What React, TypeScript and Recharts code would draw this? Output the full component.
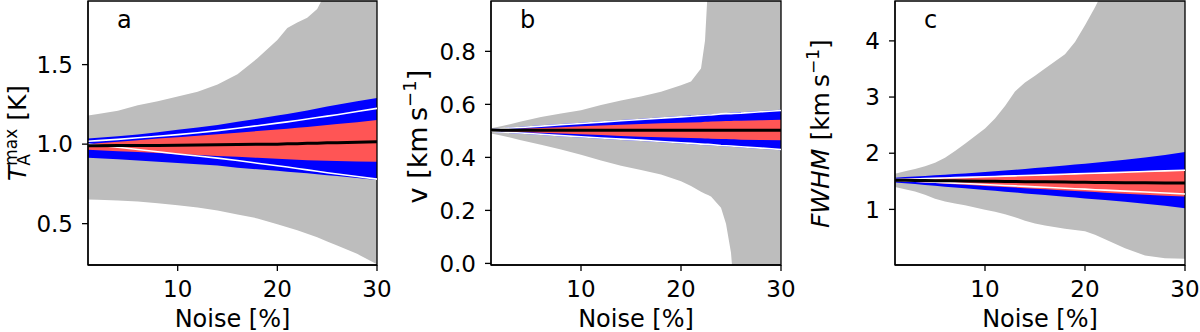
import React from 'react';
import { ComposedChart, Area, Line, XAxis, YAxis, ReferenceArea } from 'recharts';

const FONT = '"DejaVu Sans", Verdana, sans-serif';
const GRAY = '#bdbdbd';
const BLUE = '#0000ff';
const RED = '#ff5555';

// ---------- Panel a : T_A^max ----------
const noiseA = [1, 2, 4, 6, 8, 10, 12, 14, 16, 18, 20, 21, 22, 23, 24, 25, 26, 28, 30];
const grayLoA = [0.652, 0.65, 0.646, 0.64, 0.628, 0.615, 0.602, 0.582, 0.558, 0.533, 0.497, 0.478, 0.458, 0.437, 0.415, 0.388, 0.362, 0.31, 0.245];
const grayHiA = [1.18, 1.19, 1.21, 1.245, 1.27, 1.3, 1.33, 1.375, 1.44, 1.54, 1.655, 1.73, 1.765, 1.795, 1.85, 1.97, 2.05, 2.2, 2.35];
const blueLoA = [0.915, 0.912, 0.905, 0.897, 0.889, 0.882, 0.874, 0.865, 0.852, 0.842, 0.832, 0.827, 0.822, 0.817, 0.811, 0.805, 0.8, 0.787, 0.774];
const blueHiA = [1.035, 1.04, 1.05, 1.06, 1.075, 1.09, 1.105, 1.12, 1.14, 1.16, 1.18, 1.19, 1.2, 1.212, 1.224, 1.236, 1.248, 1.27, 1.29];
const redLoA = [0.965, 0.962, 0.956, 0.95, 0.944, 0.938, 0.932, 0.926, 0.92, 0.914, 0.908, 0.905, 0.902, 0.899, 0.897, 0.895, 0.894, 0.891, 0.889];
const redHiA = [1.0, 1.005, 1.015, 1.025, 1.035, 1.044, 1.053, 1.062, 1.072, 1.082, 1.092, 1.097, 1.103, 1.108, 1.114, 1.12, 1.126, 1.138, 1.151];
const whiteLoA = [1.0, 0.993, 0.98, 0.966, 0.952, 0.938, 0.925, 0.912, 0.897, 0.88, 0.864, 0.856, 0.847, 0.838, 0.829, 0.82, 0.812, 0.796, 0.78];
const whiteHiA = [1.018, 1.022, 1.03, 1.04, 1.05, 1.06, 1.072, 1.085, 1.1, 1.116, 1.132, 1.14, 1.149, 1.158, 1.167, 1.176, 1.185, 1.205, 1.225];
const medianA = [0.99, 0.99, 0.991, 0.991, 0.992, 0.993, 0.994, 0.996, 0.997, 0.999, 1.0, 1.002, 1.003, 1.005, 1.006, 1.008, 1.009, 1.012, 1.015];
const yTicksA = [0.5, 1.0, 1.5];
const yDomainA: [number, number] = [0.24, 1.9];

// ---------- Panel b : v ----------
const noiseB = [1, 2, 4, 6, 8, 10, 12, 14, 16, 18, 20, 21, 22, 22.4, 22.7, 23, 24, 24.5, 25, 25.3, 26, 28, 30];
const grayLoB = [0.49, 0.483, 0.465, 0.448, 0.43, 0.41, 0.388, 0.368, 0.352, 0.335, 0.31, 0.292, 0.27, 0.263, 0.258, 0.252, 0.21, 0.15, 0.04, -0.1, -0.2, -0.2, -0.2];
const grayHiB = [0.51, 0.517, 0.535, 0.552, 0.566, 0.578, 0.598, 0.615, 0.63, 0.648, 0.672, 0.686, 0.735, 0.84, 1.05, 1.2, 1.3, 1.3, 1.3, 1.3, 1.3, 1.3, 1.3];
const blueLoB = [0.497, 0.494, 0.489, 0.484, 0.479, 0.475, 0.47, 0.466, 0.462, 0.457, 0.452, 0.45, 0.447, 0.446, 0.446, 0.445, 0.442, 0.441, 0.44, 0.439, 0.437, 0.432, 0.427];
const blueHiB = [0.507, 0.51, 0.516, 0.521, 0.526, 0.531, 0.536, 0.541, 0.546, 0.551, 0.556, 0.558, 0.561, 0.562, 0.563, 0.563, 0.566, 0.567, 0.568, 0.569, 0.57, 0.575, 0.58];
const redLoB = [0.501, 0.499, 0.496, 0.493, 0.49, 0.487, 0.484, 0.481, 0.478, 0.476, 0.474, 0.473, 0.472, 0.471, 0.471, 0.47, 0.469, 0.469, 0.468, 0.468, 0.467, 0.466, 0.465];
const redHiB = [0.503, 0.505, 0.508, 0.511, 0.514, 0.517, 0.52, 0.523, 0.526, 0.529, 0.531, 0.532, 0.533, 0.534, 0.534, 0.535, 0.536, 0.537, 0.537, 0.538, 0.538, 0.54, 0.542];
const whiteLoB = [0.499, 0.496, 0.492, 0.487, 0.482, 0.478, 0.473, 0.469, 0.465, 0.46, 0.455, 0.453, 0.45, 0.449, 0.449, 0.448, 0.445, 0.444, 0.443, 0.442, 0.44, 0.435, 0.43];
const whiteHiB = [0.505, 0.508, 0.513, 0.518, 0.523, 0.528, 0.533, 0.538, 0.543, 0.548, 0.553, 0.555, 0.558, 0.559, 0.56, 0.56, 0.564, 0.565, 0.565, 0.566, 0.567, 0.572, 0.577];
const medianB = [0.503, 0.502, 0.502, 0.502, 0.502, 0.502, 0.502, 0.502, 0.502, 0.502, 0.502, 0.502, 0.502, 0.502, 0.502, 0.502, 0.502, 0.502, 0.502, 0.502, 0.502, 0.502, 0.502];
const yTicksB = [0, 0.2, 0.4, 0.6, 0.8];
const yDomainB: [number, number] = [-0.006, 0.99];

// ---------- Panel c : FWHM ----------
const noiseC = [1, 2, 3, 4, 5, 6, 7, 8, 10, 11, 12, 13, 14, 15, 16, 18, 19, 20, 21, 22, 24, 26, 28, 30];
const grayLoC = [1.4, 1.36, 1.32, 1.26, 1.19, 1.14, 1.105, 1.075, 0.995, 0.96, 0.915, 0.86, 0.8, 0.75, 0.715, 0.655, 0.635, 0.61, 0.55, 0.47, 0.31, 0.18, 0.13, 0.12];
const grayHiC = [1.636, 1.68, 1.72, 1.77, 1.83, 1.92, 2.04, 2.17, 2.44, 2.62, 2.84, 3.1, 3.26, 3.38, 3.51, 3.76, 3.98, 4.28, 4.6, 4.95, 5.5, 6, 6, 6];
const blueLoC = [1.48, 1.465, 1.45, 1.435, 1.42, 1.405, 1.39, 1.375, 1.345, 1.33, 1.315, 1.3, 1.285, 1.27, 1.255, 1.225, 1.21, 1.195, 1.18, 1.165, 1.135, 1.1, 1.065, 1.02];
const blueHiC = [1.565, 1.575, 1.585, 1.595, 1.606, 1.617, 1.628, 1.64, 1.665, 1.678, 1.692, 1.706, 1.72, 1.735, 1.75, 1.78, 1.797, 1.813, 1.83, 1.848, 1.885, 1.925, 1.97, 2.02];
const redLoC = [1.505, 1.496, 1.487, 1.477, 1.468, 1.458, 1.448, 1.438, 1.418, 1.408, 1.398, 1.388, 1.378, 1.368, 1.358, 1.338, 1.328, 1.318, 1.308, 1.298, 1.28, 1.262, 1.245, 1.228];
const redHiC = [1.54, 1.545, 1.55, 1.556, 1.562, 1.568, 1.573, 1.578, 1.588, 1.594, 1.6, 1.605, 1.611, 1.617, 1.623, 1.634, 1.64, 1.646, 1.652, 1.658, 1.67, 1.682, 1.694, 1.705];
const whiteLoC = [1.515, 1.508, 1.5, 1.492, 1.484, 1.476, 1.468, 1.46, 1.443, 1.435, 1.426, 1.418, 1.41, 1.401, 1.393, 1.376, 1.368, 1.36, 1.351, 1.343, 1.326, 1.309, 1.292, 1.275];
const whiteHiC = [1.53, 1.535, 1.541, 1.547, 1.553, 1.559, 1.565, 1.57, 1.58, 1.586, 1.592, 1.597, 1.603, 1.609, 1.615, 1.626, 1.632, 1.638, 1.644, 1.65, 1.662, 1.674, 1.686, 1.697];
const medianC = [1.52, 1.518, 1.516, 1.514, 1.512, 1.51, 1.508, 1.506, 1.502, 1.5, 1.498, 1.496, 1.494, 1.492, 1.49, 1.486, 1.484, 1.482, 1.48, 1.479, 1.476, 1.474, 1.472, 1.47];
const yTicksC = [1, 2, 3, 4];
const yDomainC: [number, number] = [0.01, 4.71];

const xTicks = [10, 20, 30];
const xDomain: [number, number] = [1, 30];

function buildRows(n: number[], gLo: number[], gHi: number[], bLo: number[], bHi: number[], rLo: number[], rHi: number[], wLo: number[], wHi: number[], med: number[]) {
  return n.map((v, i) => ({
    n: v,
    gray: [gLo[i], gHi[i]],
    blue: [bLo[i], bHi[i]],
    red: [rLo[i], rHi[i]],
    whiteLo: wLo[i],
    whiteHi: wHi[i],
    median: med[i],
  }));
}

const dataA = buildRows(noiseA, grayLoA, grayHiA, blueLoA, blueHiA, redLoA, redHiA, whiteLoA, whiteHiA, medianA);
const dataB = buildRows(noiseB, grayLoB, grayHiB, blueLoB, blueHiB, redLoB, redHiB, whiteLoB, whiteHiB, medianB);
const dataC = buildRows(noiseC, grayLoC, grayHiC, blueLoC, blueHiC, redLoC, redHiC, whiteLoC, whiteHiC, medianC);

const TICK_FS = 23;

const makeYTick = (fmt: (v: number) => string) => (props: any) => {
  const { x, y, payload } = props;
  return (
    <text x={x} y={y} dy={8.2} textAnchor="end" fontFamily={FONT} fontSize={TICK_FS} fill="#000">
      {fmt(payload.value)}
    </text>
  );
};

const XTick = (props: any) => {
  const { x, y, payload } = props;
  return (
    <text x={x} y={y} dy={16.5} textAnchor="middle" fontFamily={FONT} fontSize={TICK_FS} fill="#000">
      {String(payload.value)}
    </text>
  );
};

const xLabel = (props: any) => {
  const vb = props.viewBox || {};
  return (
    <text x={vb.x + vb.width / 2} y={vb.y + 62} textAnchor="middle" fontFamily={FONT} fontSize={24} fill="#000">
      Noise [%]
    </text>
  );
};

type LabelKind = 'a' | 'b' | 'c';

const makeYLabel = (kind: LabelKind) => (props: any) => {
  const vb = props.viewBox || {};
  const left = vb.x + vb.width;
  const top = vb.y;
  let content: React.ReactNode;
  let w = 0;
  let fs = 27;
  let sfs = 18;
  let back = 66;
  let shift = 0;
  if (kind === 'a') {
    fs = 25; sfs = 17; back = 62; shift = 0;
    const wMax = 2.179 * sfs;
    const wA = 0.684 * sfs;
    w = 0.611 * fs + wMax + 1.754 * fs;
    content = (
      <>
        <tspan fontStyle="italic">T</tspan>
        <tspan fontSize={sfs} dy={-9}>max</tspan>
        <tspan fontSize={sfs} dx={-wMax} dy={13}>A</tspan>
        <tspan dx={wMax - wA} dy={-4}>{' [K]'}</tspan>
      </>
    );
  } else if (kind === 'b') {
    fs = 27; sfs = 18; back = 64; shift = 4;
    w = 3.544 * fs + 1.474 * sfs + 0.39 * fs;
    content = (
      <>
        <tspan>{'v [km\u2009s'}</tspan>
        <tspan fontSize={sfs} dy={-11}>{'\u22121'}</tspan>
        <tspan dy={11}>]</tspan>
      </>
    );
  } else {
    fs = 25; sfs = 17; back = 66; shift = 1;
    w = 3.179 * fs + 2.952 * fs + 1.474 * sfs + 0.39 * fs;
    content = (
      <>
        <tspan fontStyle="italic">FWHM</tspan>
        <tspan>{' [km\u2009s'}</tspan>
        <tspan fontSize={sfs} dy={-10}>{'\u22121'}</tspan>
        <tspan dy={10}>]</tspan>
      </>
    );
  }
  const cx = left - back;
  const cy = top + vb.height / 2 + shift;
  return (
    <g>
      <text
        transform={`translate(${cx},${cy}) rotate(-90)`}
        x={-w / 2}
        y={0}
        textAnchor="start"
        fontFamily={FONT}
        fontSize={fs}
        fill="#000"
      >
        {content}
      </text>
      <text x={left + 29} y={top + 27} fontFamily={FONT} fontSize={24} fill="#000">
        {kind}
      </text>
    </g>
  );
};

type PanelProps = {
  data: any[];
  yDomain: [number, number];
  yTicks: number[];
  fmt: (v: number) => string;
  kind: LabelKind;
  marginLeft: number;
  marginRight: number;
  offset: number;
};

const Panel = ({ data, yDomain, yTicks, fmt, kind, marginLeft, marginRight, offset }: PanelProps) => (
  <div style={{ position: 'absolute', left: offset, top: 0, width: 400, height: 332 }}>
    <ComposedChart
      width={400}
      height={332}
      data={data}
      margin={{ top: 1, right: marginRight, bottom: 0, left: marginLeft }}
    >
      <Area type="linear" dataKey="gray" stroke="none" fill={GRAY} fillOpacity={1} isAnimationActive={false} dot={false} activeDot={false} />
      <Area type="linear" dataKey="blue" stroke="none" fill={BLUE} fillOpacity={1} isAnimationActive={false} dot={false} activeDot={false} />
      <Area type="linear" dataKey="red" stroke="none" fill={RED} fillOpacity={1} isAnimationActive={false} dot={false} activeDot={false} />
      <Line type="linear" dataKey="whiteHi" stroke="#ffffff" strokeWidth={1.6} dot={false} activeDot={false} isAnimationActive={false} />
      <Line type="linear" dataKey="whiteLo" stroke="#ffffff" strokeWidth={1.6} dot={false} activeDot={false} isAnimationActive={false} />
      <Line type="linear" dataKey="median" stroke="#000000" strokeWidth={3} dot={false} activeDot={false} isAnimationActive={false} />
      <XAxis
        type="number"
        dataKey="n"
        domain={xDomain}
        ticks={xTicks}
        allowDataOverflow
        height={67}
        tickSize={6}
        tickMargin={9}
        tick={<XTick />}
        axisLine={{ stroke: '#000', strokeWidth: 1.3 }}
        tickLine={{ stroke: '#000', strokeWidth: 1.3 }}
        label={xLabel}
      />
      <YAxis
        type="number"
        domain={yDomain}
        ticks={yTicks}
        allowDataOverflow
        width={60}
        tickSize={6}
        tickMargin={9}
        tick={makeYTick(fmt)}
        axisLine={{ stroke: '#000', strokeWidth: 1.3 }}
        tickLine={{ stroke: '#000', strokeWidth: 1.3 }}
        label={makeYLabel(kind)}
      />
      <ReferenceArea x1={xDomain[0]} x2={xDomain[1]} y1={yDomain[0]} y2={yDomain[1]} fill="none" stroke="#000" strokeWidth={1.3} />
    </ComposedChart>
  </div>
);

export default function App() {
  return (
    <div style={{ position: 'absolute', left: 0, top: 0, width: 1200, height: 332, background: '#fff', overflow: 'hidden' }}>
      <Panel data={dataA} yDomain={yDomainA} yTicks={yTicksA} fmt={(v) => v.toFixed(1)} kind="a" marginLeft={28} marginRight={23} offset={0} />
      <Panel data={dataB} yDomain={yDomainB} yTicks={yTicksB} fmt={(v) => v.toFixed(1)} kind="b" marginLeft={31} marginRight={19} offset={400} />
      <Panel data={dataC} yDomain={yDomainC} yTicks={yTicksC} fmt={(v) => String(v)} kind="c" marginLeft={35} marginRight={15} offset={800} />
    </div>
  );
}
